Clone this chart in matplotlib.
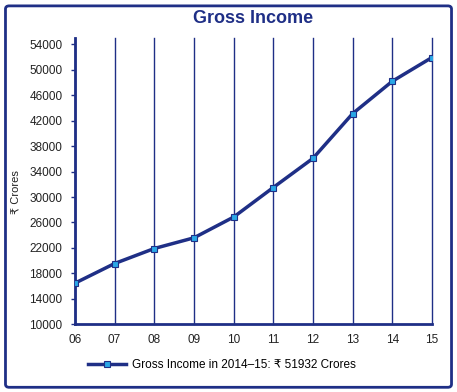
import matplotlib.pyplot as plt
from matplotlib.patches import FancyBboxPatch

# data
years = ['06', '07', '08', '09', '10', '11', '12', '13', '14', '15']
gross_income = [16450, 19540, 21900, 23580, 26840, 31490, 36070, 43100, 48190, 51932]
yticks = list(range(10000, 54001, 4000))

navy = '#1f2f86'
plt.rcParams['font.family'] = ['Liberation Sans', 'DejaVu Sans']

fig = plt.figure(figsize=(4.57, 3.92), dpi=100)
ax = fig.add_axes([0.164, 0.173, 0.781, 0.730])

x = list(range(len(years)))
ax.plot(x, gross_income, color=navy, lw=2.5, marker='s', markersize=4,
        markerfacecolor='#2aa7e6', markeredgecolor=navy, markeredgewidth=0.8,
        label='Gross Income in 2014\u201315: \u20b9 51932 Crores', zorder=3)

ax.set_xlim(0, len(years) - 1)
ax.set_ylim(10000, 55000)
ax.set_xticks(x)
ax.set_xticklabels(years)
ax.set_yticks(yticks)
ax.tick_params(axis='both', labelsize=8.5, colors='#222222')
ax.tick_params(axis='y', length=3, width=1, color=navy, pad=6)
ax.tick_params(axis='x', length=0, pad=7)
ax.grid(axis='x', color=navy, lw=1)
for gl in ax.get_xgridlines():
    gl.set_clip_on(False)
for s in ['top', 'right']:
    ax.spines[s].set_visible(False)
for s in ['left', 'bottom']:
    ax.spines[s].set_color(navy)
    ax.spines[s].set_linewidth(2)

fig.text(0.554, 0.952, 'Gross Income', ha='center', va='center',
         fontsize=13, fontweight='bold', color=navy)
fig.text(0.035, 0.51, '\u20b9 Crores', rotation=90, ha='center', va='center',
         fontsize=8, color='#222222')

fig.legend(loc='center left', bbox_to_anchor=(0.17, 0.068), frameon=False,
           fontsize=8.5, handlelength=3.2, handletextpad=0.5)

border = FancyBboxPatch((0.012, 0.012), 0.976, 0.973, boxstyle='round,pad=0,rounding_size=0.008',
                        transform=fig.transFigure, fill=False, edgecolor=navy, lw=2)
fig.patches.append(border)

fig.savefig('out.png', dpi=100)
